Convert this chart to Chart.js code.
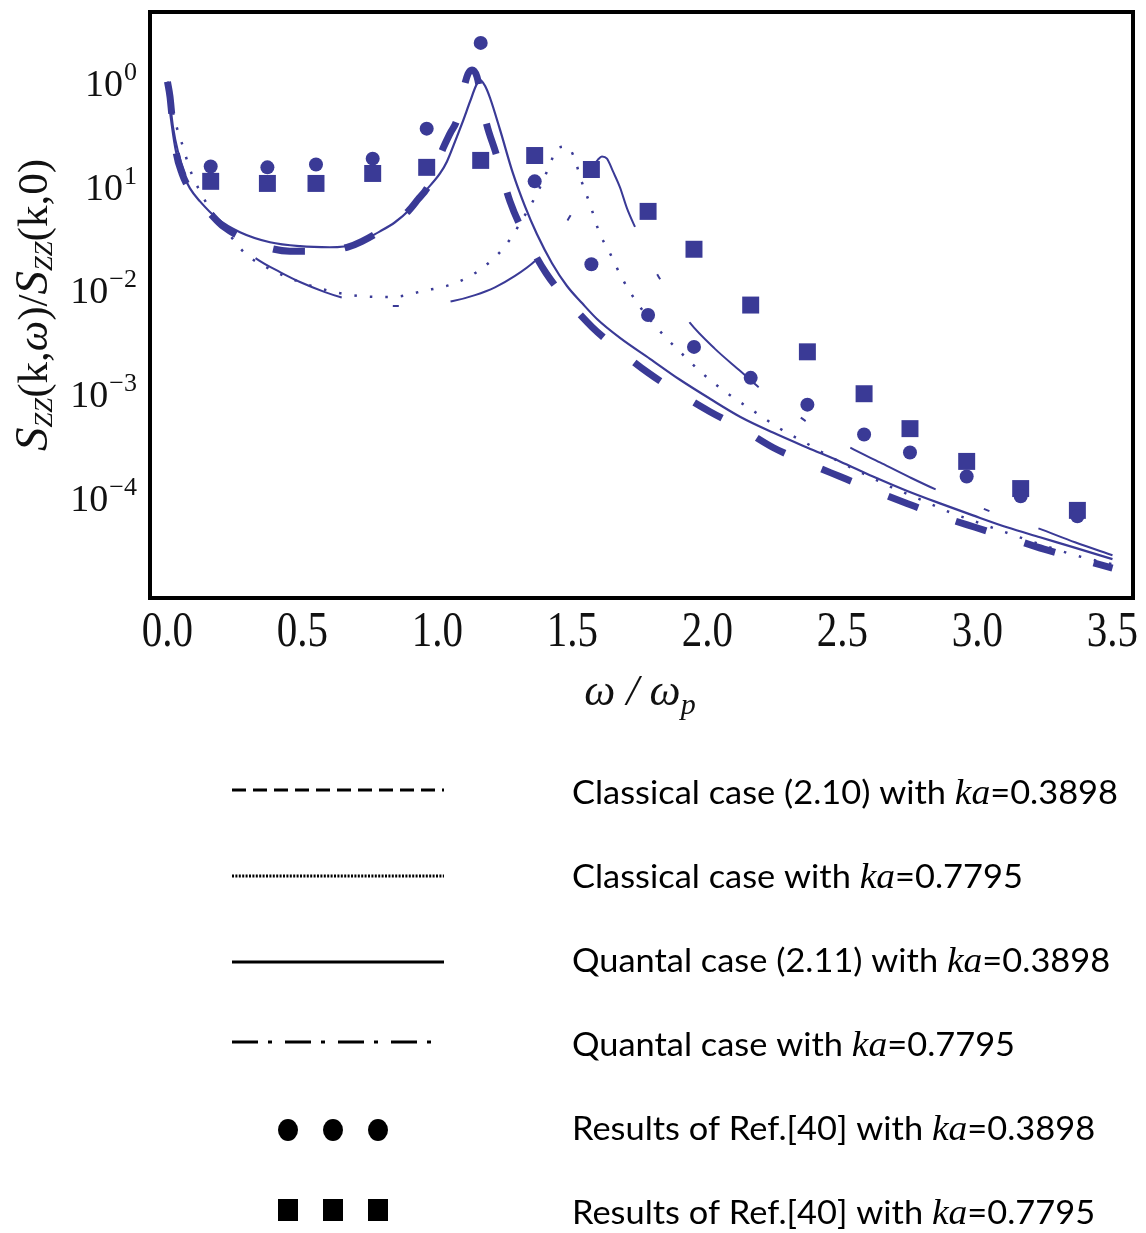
<!DOCTYPE html>
<html>
<head>
<meta charset="utf-8">
<script src="https://cdn.jsdelivr.net/npm/chart.js@4.4.1/dist/chart.umd.min.js"></script>
<style>
  html, body { margin: 0; padding: 0; background: #fff; }
  canvas { display: block; }
</style>
</head>
<body>
<canvas id="c" width="1146" height="1233"></canvas>
<script>
// ---- axis ticks ----
const xTickValues = [0, 0.5, 1, 1.5, 2, 2.5, 3, 3.5];
const xTickLabels = ['0.0', '0.5', '1.0', '1.5', '2.0', '2.5', '3.0', '3.5'];
const yTickValues = [1, 0.1, 0.01, 0.001, 0.0001];
const yTickExponents = ['0', '1', '\u22122', '\u22123', '\u22124'];

// ---- Ref.[40] results (markers) ----
const refOmega = [0.16, 0.37, 0.55, 0.76, 0.96, 1.16, 1.36, 1.57, 1.78, 1.95, 2.16, 2.37, 2.58, 2.75, 2.96, 3.16, 3.37];
const refLowKa = [0.153, 0.150, 0.160, 0.182, 0.354, 2.37, 0.110, 0.0175, 0.00568, 0.00280, 0.00141, 7.78e-4, 4.01e-4, 2.69e-4, 1.58e-4, 1.02e-4, 6.55e-5];
const refHighKa = [0.110, 0.105, 0.105, 0.131, 0.150, 0.175, 0.195, 0.143, 0.0565, 0.0244, 0.00708, 0.00251, 9.91e-4, 4.57e-4, 2.21e-4, 1.21e-4, 7.46e-5];

// ---- classical case (2.10), ka = 0.3898 ----
const classicalLowOmega = [0, 0.0093, 0.0167, 0.0315, 0.0537, 0.1019, 0.1574, 0.2056, 0.3241, 0.4537,
  0.5648, 0.6648, 0.7204, 0.8315, 0.8907, 0.9278, 0.9648, 1.0204, 1.0463, 1.0722,
  1.0944, 1.113, 1.1278, 1.1463, 1.1611, 1.1796, 1.2167, 1.2685, 1.3352, 1.4019,
  1.4833, 1.5722, 1.6759, 1.7796, 1.8981, 2.0093, 2.1204, 2.2426, 2.3648, 2.4907,
  2.6167, 2.7389, 2.8648, 2.9907, 3.1204, 3.2463, 3.3648, 3.5];
const classicalLow = [1, 0.718, 0.461, 0.213, 0.131, 0.0771, 0.0541, 0.0406, 0.0279, 0.0234,
  0.0234, 0.0255, 0.0291, 0.0434, 0.0565, 0.0738, 0.0982, 0.228, 0.317, 0.432,
  0.802, 1.19, 1.30, 1.12, 0.718, 0.413, 0.204, 0.0705, 0.0291, 0.0144,
  0.00774, 0.00436, 0.00256, 0.00158, 9.91e-4, 6.65e-4, 4.68e-4, 3.01e-4, 2.16e-4, 1.58e-4,
  1.16e-4, 8.71e-5, 6.55e-5, 5.13e-5, 4.03e-5, 3.16e-5, 2.59e-5, 2.07e-5];

// ---- classical case, ka = 0.7795 ----
const classicalHighOmega = [0, 0.0093, 0.0241, 0.0389, 0.0537, 0.0833, 0.1204, 0.1759, 0.2426, 0.287,
  0.3796, 0.4907, 0.6019, 0.713, 0.8315, 0.9463, 1.0648, 1.1648, 1.25, 1.3167,
  1.3722, 1.4167, 1.4426, 1.4796, 1.5093, 1.5278, 1.5648, 1.6019, 1.6315, 1.6833,
  1.7426, 1.8167, 1.8981, 1.9833, 2.0759, 2.1685, 2.2685, 2.3685, 2.4722, 2.5759,
  2.6833, 2.787, 2.8981, 3.0093, 3.113, 3.2315, 3.3352, 3.4167, 3.5];
const classicalHigh = [1, 0.718, 0.461, 0.331, 0.254, 0.143, 0.0879, 0.0506, 0.0305, 0.0223,
  0.0157, 0.0118, 0.00966, 0.00865, 0.00845, 0.00966, 0.0115, 0.016, 0.0261, 0.0484,
  0.0879, 0.16, 0.228, 0.238, 0.178, 0.122, 0.0661, 0.034, 0.0244, 0.0129,
  0.00724, 0.00417, 0.00251, 0.00154, 9.91e-4, 6.81e-4, 4.57e-4, 3.28e-4, 2.31e-4, 1.69e-4,
  1.24e-4, 9.53e-5, 7.15e-5, 5.61e-5, 4.5e-5, 3.52e-5, 2.89e-5, 2.53e-5, 2.26e-5];

// ---- quantal case (2.11), ka = 0.3898 ----
const quantalLowOmega = [0, 0.0056, 0.0167, 0.0315, 0.0537, 0.0833, 0.1204, 0.1833, 0.2685, 0.3796,
  0.4907, 0.6019, 0.6944, 0.787, 0.8426, 0.8981, 0.9537, 1.0093, 1.0352, 1.0648,
  1.0907, 1.1204, 1.1426, 1.1574, 1.1759, 1.1944, 1.2315, 1.2796, 1.3241, 1.3685,
  1.4241, 1.4796, 1.5352, 1.5907, 1.6759, 1.787, 1.8981, 2.0093, 2.1204, 2.2426,
  2.3685, 2.4907, 2.613, 2.7352, 2.8611, 2.9833, 3.1093, 3.2315, 3.3537, 3.5];
const quantalLow = [1, 0.643, 0.370, 0.213, 0.137, 0.094, 0.0705, 0.0484, 0.0356, 0.0285,
  0.0261, 0.0255, 0.0273, 0.0363, 0.0444, 0.0592, 0.0879, 0.131, 0.171, 0.265,
  0.395, 0.643, 0.915, 1.045, 0.915, 0.702, 0.346, 0.131, 0.0631, 0.034,
  0.0179, 0.0108, 0.0074, 0.0052, 0.00342, 0.00215, 0.00135, 8.87e-4, 5.96e-4, 4.19e-4,
  3.01e-4, 2.21e-4, 1.58e-4, 1.16e-4, 8.71e-5, 6.68e-5, 5.13e-5, 4.11e-5, 3.30e-5, 2.53e-5];

// ---- quantal case, ka = 0.7795 ----
const quantalHighOmega = [0, 0.0093, 0.0204, 0.0389, 0.0648, 0.1019, 0.1574, 0.2426, 0.3315, 0.4167,
  0.4907, 0.5833, 0.6648, 0.75, 0.8611, 0.9537, 1.0574, 1.1389, 1.213, 1.287,
  1.3611, 1.4278, 1.4907, 1.5389, 1.5759, 1.5944, 1.6093, 1.6278, 1.65, 1.6759,
  1.7019, 1.7389, 1.7796, 1.8241, 1.8796, 1.9352, 2.0278, 2.1204, 2.2019, 2.287,
  2.3611, 2.4463, 2.5278, 2.6389, 2.75, 2.8537, 2.9537, 3.0463, 3.1389, 3.2241,
  3.3611, 3.5];
const quantalHigh = [1, 0.643, 0.37, 0.213, 0.131, 0.0841, 0.0541, 0.0305, 0.0196, 0.0147,
  0.0118, 0.00944, 0.00809, 0.00724, 0.00693, 0.00708, 0.00774, 0.00883, 0.0105, 0.0135,
  0.0188, 0.0291, 0.0506, 0.0879, 0.153, 0.178, 0.191, 0.182, 0.137, 0.0962,
  0.0604, 0.0363, 0.0209, 0.0126, 0.00774, 0.00476, 0.00268, 0.00165, 0.00108, 7.6e-4,
  5.46e-4, 4.01e-4, 3.01e-4, 2.16e-4, 1.55e-4, 1.16e-4, 9.12e-5, 7.31e-5, 5.98e-5, 5.02e-5,
  3.68e-5, 2.76e-5];

// ---- legend entries ----
const legendCaptions = [
  'Classical case (2.10) with ',
  'Classical case with ',
  'Quantal case (2.11) with ',
  'Quantal case with ',
  'Results of Ref.[40] with ',
  'Results of Ref.[40] with '
];
const legendKa = ['0.3898', '0.7795', '0.3898', '0.7795', '0.3898', '0.7795'];

const INK = 'rgb(58,58,150)';
const pairs = (xs, ys) => xs.map((x, i) => ({ x, y: ys[i] }));

const curve = (label, xs, ys, width, dash) => ({
  label, data: pairs(xs, ys), showLine: true,
  borderColor: INK, borderWidth: width, borderDash: dash,
  borderCapStyle: 'butt', borderJoinStyle: 'round',
  pointRadius: 0, pointHoverRadius: 0,
  cubicInterpolationMode: 'monotone', fill: false
});

const datasets = [
  {
    label: 'Results of Ref.[40] with ka=0.3898', data: pairs(refOmega, refLowKa),
    showLine: false, pointStyle: 'circle', pointRadius: 7,
    pointBackgroundColor: INK, pointBorderWidth: 0
  },
  {
    label: 'Results of Ref.[40] with ka=0.7795', data: pairs(refOmega, refHighKa),
    showLine: false, pointStyle: 'rect', pointRadius: 12,
    pointBackgroundColor: INK, pointBorderWidth: 0
  },
  curve('Quantal case (2.11) with ka=0.3898', quantalLowOmega, quantalLow, 2.2, []),
  curve('Quantal case with ka=0.7795', quantalHighOmega, quantalHigh, 2, [95, 52, 6, 52]),
  curve('Classical case with ka=0.7795', classicalHighOmega, classicalHigh, 2.5, [2.5, 13]),
  curve('Classical case (2.10) with ka=0.3898', classicalLowOmega, classicalLow, 7, [32, 40])
];

const serif = n => `${n}px "Liberation Serif"`;
const serifI = n => `italic ${n}px "Liberation Serif"`;

function runsWidth(ctx, runs) {
  let w = 0;
  for (const r of runs) { ctx.font = r.f; w += ctx.measureText(r.t).width; }
  return w;
}
function drawRuns(ctx, runs, x0, base) {
  let x = x0;
  for (const r of runs) {
    ctx.font = r.f;
    ctx.fillText(r.t, x, base + (r.dy || 0));
    x += ctx.measureText(r.t).width;
  }
}

// Frame, tick labels, axis titles and the key below the plot
const decorations = {
  id: 'decorations',
  afterDraw(chart) {
    const { ctx, chartArea: a, scales } = chart;
    const xs = scales.x, ys = scales.y;
    ctx.save();

    // plot frame
    ctx.strokeStyle = '#000';
    ctx.lineWidth = 4;
    ctx.setLineDash([]);
    ctx.strokeRect(a.left, a.top, a.right - a.left, a.bottom - a.top);

    ctx.fillStyle = '#111';
    ctx.textBaseline = 'alphabetic';

    // y tick labels: 10 with raised exponent
    yTickValues.forEach((v, i) => {
      const py = ys.getPixelForValue(v);
      ctx.font = serif(26);
      const ex = yTickExponents[i];
      const we = ctx.measureText(ex).width;
      ctx.textAlign = 'left';
      ctx.fillText(ex, 137 - we, py - 2);
      ctx.font = serif(38);
      ctx.textAlign = 'right';
      ctx.fillText('10', 136 - we, py + 14);
    });

    // x tick labels
    ctx.textAlign = 'center';
    ctx.font = serif(50);
    xTickValues.forEach((v, i) => {
      const px = xs.getPixelForValue(v);
      ctx.save();
      ctx.translate(px, 646);
      ctx.scale(0.82, 1);
      ctx.fillText(xTickLabels[i], 0, 0);
      ctx.restore();
    });

    // x axis title
    ctx.textAlign = 'left';
    const xTitle = [
      { t: '\u03C9', f: serifI(44) },
      { t: ' / ', f: serifI(44) },
      { t: '\u03C9', f: serifI(44) },
      { t: 'p', f: serifI(30), dy: 9 }
    ];
    const xtw = runsWidth(ctx, xTitle);
    drawRuns(ctx, xTitle, 640 - xtw / 2, 705);

    // y axis title (rotated)
    const yTitle = [
      { t: 'S', f: serifI(46) },
      { t: 'ZZ', f: serifI(26), dy: 5 },
      { t: '(k,', f: serif(42) },
      { t: '\u03C9', f: serifI(42) },
      { t: ')/', f: serif(42) },
      { t: 'S', f: serifI(46) },
      { t: 'ZZ', f: serifI(26), dy: 5 },
      { t: '(k,0)', f: serif(42) }
    ];
    const ytw = runsWidth(ctx, yTitle);
    const ySpan = 292;
    ctx.save();
    ctx.translate(47, 305);
    ctx.rotate(-Math.PI / 2);
    ctx.scale(ySpan / ytw, 1);
    drawRuns(ctx, yTitle, -ytw / 2, 0);
    ctx.restore();

    // ---- key ----
    const sampleX0 = 232, sampleX1 = 444;
    const sampleY = [790, 876, 962, 1042, 1130, 1210];
    const textBase = [804, 888, 972, 1056, 1140, 1224];
    ctx.strokeStyle = '#000';
    ctx.fillStyle = '#000';
    ctx.lineCap = 'butt';
    const lineSample = (y, dash, w) => {
      ctx.setLineDash(dash);
      ctx.lineWidth = w;
      ctx.beginPath();
      ctx.moveTo(sampleX0, y);
      ctx.lineTo(sampleX1, y);
      ctx.stroke();
    };
    lineSample(sampleY[0], [14, 7], 3);
    lineSample(sampleY[1], [2, 1.4], 3);
    lineSample(sampleY[2], [], 3);
    lineSample(sampleY[3], [26, 10, 4, 13], 3);
    ctx.setLineDash([]);
    [288, 333, 378].forEach(cx => {
      ctx.beginPath();
      ctx.ellipse(cx, sampleY[4], 10, 11, 0, 0, Math.PI * 2);
      ctx.fill();
      ctx.fillRect(cx - 10, sampleY[5] - 11, 20, 22);
    });

    const capFont = '33px Lato';
    const kaFont = 'italic 36px "Liberation Serif"';
    const rowRuns = i => [
      { t: legendCaptions[i], f: capFont },
      { t: 'ka', f: kaFont },
      { t: '=' + legendKa[i], f: capFont }
    ];
    const sx = 546 / runsWidth(ctx, rowRuns(0));
    ctx.fillStyle = '#000';
    legendCaptions.forEach((_, i) => {
      ctx.save();
      ctx.translate(572, textBase[i]);
      ctx.scale(sx, 1);
      drawRuns(ctx, rowRuns(i), 0, 0);
      ctx.restore();
    });

    ctx.restore();
  }
};

new Chart(document.getElementById('c'), {
  type: 'scatter',
  data: { datasets },
  options: {
    responsive: false,
    animation: false,
    devicePixelRatio: 1,
    layout: { padding: { left: 150, top: 10, right: 13, bottom: 635 } },
    plugins: { legend: { display: false }, tooltip: { enabled: false } },
    scales: {
      x: { type: 'linear', min: -0.0648, max: 3.576, display: false },
      y: { type: 'logarithmic', min: 1.069e-5, max: 4.70, display: false }
    }
  },
  plugins: [decorations]
});
</script>
</body>
</html>
